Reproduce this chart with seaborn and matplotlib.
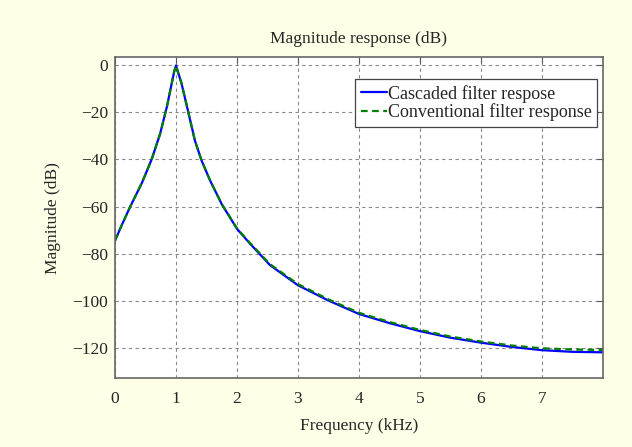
import numpy as np
import pandas as pd
import matplotlib
matplotlib.use('Agg')
import matplotlib.pyplot as plt
import seaborn as sns

# frequency points (kHz)
freq = [0.0, 0.1, 0.25, 0.44, 0.6, 0.74, 0.85, 0.93, 0.97, 1.0, 1.03, 1.09, 1.2,
        1.31, 1.42, 1.56, 1.75, 2.0, 2.21, 2.54, 3.0, 3.5, 4.0, 4.5, 5.0, 5.5,
        6.0, 6.5, 7.0, 7.5, 8.0]
cascaded = [-74.5, -68.5, -60.0, -50.0, -40.0, -29.0, -17.6, -7.6, -2.6, 0.0, -2.6,
            -7.6, -19.7, -32.0, -40.5, -49.0, -59.0, -69.5, -75.7, -84.9, -93.5,
            -100.0, -105.7, -109.6, -113.0, -115.8, -117.9, -119.7, -121.1, -121.8,
            -122.0]
conventional = [-74.5, -68.5, -60.0, -50.0, -40.0, -29.0, -17.6, -7.6, -2.6, 0.0, -2.6,
                -7.6, -19.7, -32.0, -40.5, -49.0, -59.0, -69.3, -75.4, -84.5, -93.0,
                -99.5, -105.2, -109.1, -112.5, -115.3, -117.4, -119.1, -120.3, -120.8,
                -121.0]
xticks = [0, 1, 2, 3, 4, 5, 6, 7]
yticks = [0, -20, -40, -60, -80, -100, -120]

sns.set_style('white')
plt.rcParams['font.family'] = ['Liberation Serif', 'DejaVu Serif']

bg = '#fffee6'
fig = plt.figure(figsize=(6.32, 4.47), dpi=100, facecolor=bg)
ax = fig.add_axes([0.182, 0.154, 0.772, 0.718])
ax.set_facecolor('white')

df = pd.DataFrame({'freq': freq, 'cascaded': cascaded, 'conventional': conventional})
sns.lineplot(data=df, x='freq', y='cascaded', ax=ax, color='#0000ff', lw=1.6,
             label='Cascaded filter respose')
sns.lineplot(data=df, x='freq', y='conventional', ax=ax, color='#008000', lw=1.6,
             linestyle=(0, (3, 2)), label='Conventional filter response')

ax.set_xlim(0, 8)
ax.set_ylim(-133, 3.5)
ax.set_xticks(xticks)
ax.set_yticks(yticks)
ax.grid(True, color='#888888', linestyle=(0, (3, 3)), linewidth=0.8)
ax.tick_params(direction='in', length=4, top=True, right=True, labelsize=12.5,
               color='#555555')
ax.tick_params(axis='x', pad=9)
ax.tick_params(axis='y', pad=5)
for s in ax.spines.values():
    s.set_color('#666666')
    s.set_linewidth(1.2)

ax.set_title('Magnitude response (dB)', fontsize=12.5, pad=10)
ax.set_xlabel('Frequency (kHz)', fontsize=12.5, labelpad=8)
ax.set_ylabel('Magnitude (dB)', fontsize=12.5, labelpad=8)

leg = ax.legend(loc='upper right', bbox_to_anchor=(0.988, 0.931), fontsize=13,
                fancybox=False, framealpha=1, edgecolor='#444444',
                handlelength=1.45, handletextpad=0.05, borderpad=0.3,
                labelspacing=0.05, borderaxespad=0)
leg.get_frame().set_linewidth(0.9)

fig.savefig('out.png', dpi=100, facecolor=bg)
